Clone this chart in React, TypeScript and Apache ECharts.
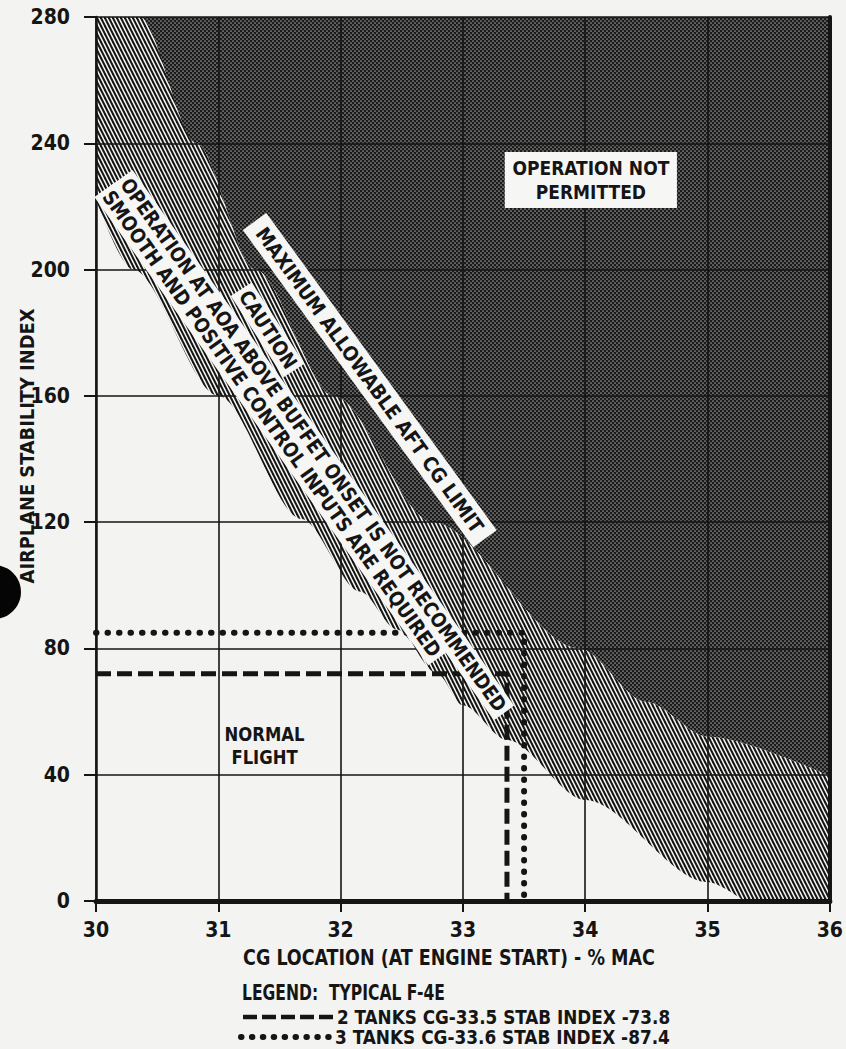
import React, { useEffect, useRef } from "react";
import * as echarts from "echarts";

// ---- axis ticks ----
const cgTicks = [30, 31, 32, 33, 34, 35, 36];
const indexTicks = [0, 40, 80, 120, 160, 200, 240, 280];

// ---- maximum allowable aft CG limit (lower edge of "operation not permitted") ----
const aftLimitCG = [30.36, 30.82, 31.3, 31.94, 32.75, 33.95, 34.5, 35.0, 36.0];
const aftLimitIndex = [280, 240, 200, 160, 120, 80, 63, 52, 39.5];

// ---- lower edge of the caution (buffet onset) band ----
const cautionCG = [30.0, 30.3, 31.0, 31.68, 32.16, 32.46, 32.79, 33.0, 33.36, 34.0, 35.0, 35.3];
const cautionIndex = [222, 200, 160, 121, 98, 86, 72, 62, 51, 32, 6, 0];

// ---- typical F-4E examples ----
const twoTanksCG = [30, 33.36, 33.36];
const twoTanksIndex = [72, 72, 0];
const threeTanksCG = [30, 33.5, 33.5];
const threeTanksIndex = [85, 85, 0];

const legendTitle = "LEGEND:  TYPICAL F-4E";
const twoTanksLabel = "2 TANKS CG-33.5 STAB INDEX -73.8";
const threeTanksLabel = "3 TANKS CG-33.6 STAB INDEX -87.4";

const FONT =
  '"Liberation Sans Narrow", "DejaVu Sans Condensed", "Roboto Condensed", "Arial Narrow", "Liberation Sans", sans-serif';
const INK = "#151515";
const PAPER = "#f3f3f1";
const STRIP = "#f6f6f4";

function svgUrl(svg: string) {
  return "data:image/svg+xml;charset=utf-8," + encodeURIComponent(svg);
}

const hatchSvg =
  '<svg xmlns="http://www.w3.org/2000/svg" width="4" height="8">' +
  '<rect width="4" height="8" fill="' + PAPER + '"/>' +
  '<g stroke="#141414" stroke-width="2.05">' +
  '<line x1="-1" y1="-2" x2="5" y2="10"/>' +
  '<line x1="3" y1="-2" x2="9" y2="10"/>' +
  '<line x1="-5" y1="-2" x2="1" y2="10"/>' +
  "</g></svg>";

const dotSvg =
  '<svg xmlns="http://www.w3.org/2000/svg" width="4" height="4">' +
  '<rect width="4" height="4" fill="#1b1b1b"/>' +
  '<circle cx="1" cy="1" r="0.85" fill="#9a9a9a"/>' +
  '<circle cx="3" cy="3" r="0.85" fill="#9a9a9a"/>' +
  "</svg>";

let measureCtx: CanvasRenderingContext2D | null = null;
function textWidth(text: string, size: number) {
  if (!measureCtx) measureCtx = document.createElement("canvas").getContext("2d");
  if (!measureCtx) return 0;
  measureCtx.font = "bold " + size + "px " + FONT;
  return Math.max(...text.split("\n").map((t) => measureCtx!.measureText(t).width));
}
// scale factor so the widest line of a text spans `target` pixels
function fit(text: string, size: number, target: number) {
  const w = textWidth(text, size);
  if (!w) return 1;
  return Math.min(1.15, Math.max(0.6, target / w));
}

export default function App() {
  const ref = useRef<HTMLDivElement>(null);

  useEffect(() => {
    const el = ref.current;
    if (!el) return;
    const chart = echarts.init(el, null, { renderer: "svg" });

    const pair = (xs: number[], ys: number[]) => xs.map((x, i) => [x, ys[i]]);
    const limit = pair(aftLimitCG, aftLimitIndex);
    const caution = pair(cautionCG, cautionIndex);
    const topIdx = indexTicks[indexTicks.length - 1];

    const hatch = { image: svgUrl(hatchSvg), repeat: "repeat", imageWidth: 4, imageHeight: 8 };
    const dots = { image: svgUrl(dotSvg), repeat: "repeat", imageWidth: 4, imageHeight: 4 };

    const tick = { fontFamily: FONT, fontWeight: "bold", fontSize: 21, color: INK };

    chart.setOption({
      animation: false,
      backgroundColor: PAPER,
      grid: { left: 96, right: 10, top: 17, bottom: 148, containLabel: false },
      xAxis: {
        type: "value",
        min: cgTicks[0],
        max: cgTicks[cgTicks.length - 1],
        interval: cgTicks[1] - cgTicks[0],
        z: 2,
        axisLine: { show: true, onZero: false, lineStyle: { color: INK, width: 5 } },
        axisTick: { show: true, length: 11, lineStyle: { color: INK, width: 2 } },
        axisLabel: { ...tick, margin: 18 },
        splitLine: { show: true, lineStyle: { color: INK, width: 1.6 } },
      },
      yAxis: [
        {
          type: "value",
          min: indexTicks[0],
          max: topIdx,
          interval: indexTicks[1] - indexTicks[0],
          z: 2,
          axisLine: { show: true, onZero: false, lineStyle: { color: INK, width: 2.5 } },
          axisTick: { show: true, length: 12, lineStyle: { color: INK, width: 2 } },
          axisLabel: { ...tick, margin: 26 },
          splitLine: { show: true, lineStyle: { color: INK, width: 1.6 } },
        },
        {
          type: "value",
          position: "right",
          min: indexTicks[0],
          max: topIdx,
          interval: indexTicks[1] - indexTicks[0],
          z: 2,
          axisLine: { show: true, onZero: false, lineStyle: { color: INK, width: 4 } },
          axisTick: { show: false },
          axisLabel: { show: false },
          splitLine: { show: false },
        },
      ],
      series: [
        {
          name: "Operation not permitted",
          type: "line",
          data: limit,
          smooth: 0.3,
          smoothMonotone: "x",
          showSymbol: false,
          silent: true,
          z: 1,
          lineStyle: { width: 0 },
          areaStyle: { color: dots, opacity: 1, origin: "end" },
        },
        {
          name: "Caution band",
          type: "line",
          data: [[cgTicks[0], topIdx], ...limit],
          smooth: 0.3,
          smoothMonotone: "x",
          showSymbol: false,
          silent: true,
          z: 1,
          lineStyle: { width: 0 },
          areaStyle: { color: hatch, opacity: 1, origin: "start" },
        },
        {
          name: "Normal flight",
          type: "line",
          data: caution,
          smooth: 0.3,
          smoothMonotone: "x",
          showSymbol: false,
          silent: true,
          z: 1.5,
          lineStyle: { width: 0 },
          areaStyle: { color: PAPER, opacity: 1, origin: "start" },
        },
        {
          name: twoTanksLabel,
          type: "line",
          data: pair(twoTanksCG, twoTanksIndex),
          showSymbol: false,
          silent: true,
          z: 3,
          lineStyle: { color: INK, width: 5, type: [15, 6] },
        },
        {
          name: threeTanksLabel,
          type: "line",
          data: pair(threeTanksCG, threeTanksIndex),
          showSymbol: false,
          silent: true,
          z: 3,
          lineStyle: { color: INK, width: 6, type: [0.5, 11], cap: "round" },
        },
      ],
    });

    const px = (p: number[]) => chart.convertToPixel({ gridIndex: 0 }, p) as number[];
    const deg = Math.PI / 180;
    const txt = (p: number[], text: string, angle: number, target: number, extra: any = {}) => {
      const q = px(p);
      const size = extra.fontSize || 20;
      return {
        type: "text",
        x: q[0],
        y: q[1],
        rotation: -angle * deg,
        scaleX: fit(text, size, target),
        z: 100,
        silent: true,
        style: {
          text,
          fontFamily: FONT,
          fontWeight: "bold",
          fontSize: size,
          fill: INK,
          align: "center",
          verticalAlign: "middle",
          lineHeight: 23,
          ...extra,
        },
      };
    };
    const plain = (x: number, y: number, text: string, align: string, size: number, target: number, rot = 0) => ({
      type: "text",
      x,
      y,
      rotation: rot,
      scaleX: fit(text, size, target),
      z: 100,
      silent: true,
      style: {
        text,
        fontFamily: FONT,
        fontWeight: "bold",
        fontSize: size,
        lineHeight: size,
        fill: INK,
        align,
        verticalAlign: "middle",
      },
    });

    const graphic: any[] = [
      txt([34.046, 228.4], "OPERATION NOT\nPERMITTED", 0, 157, {
        backgroundColor: STRIP,
        padding: [4, 8],
        lineHeight: 24,
      }),
      txt([32.238, 165.0], "MAXIMUM ALLOWABLE AFT CG LIMIT", 54, 372, {
        backgroundColor: STRIP,
        padding: [3, 10],
      }),
      txt([31.403, 180.9], "CAUTION", 57, 89, { backgroundColor: STRIP, padding: [1, 4] }),
      txt([31.776, 144.4], "OPERATION AT AOA ABOVE BUFFET ONSET IS NOT RECOMMENDED", 54.5, 650, {
        backgroundColor: STRIP,
        padding: [1, 4],
      }),
      txt([31.435, 151.1], "SMOOTH AND POSITIVE CONTROL INPUTS ARE REQUIRED", 54.5, 567, {
        backgroundColor: STRIP,
        padding: [1, 4],
      }),
      txt([31.378, 49.1], "NORMAL\nFLIGHT", 0, 80, { lineHeight: 23 }),
      plain(27, 446, "AIRPLANE STABILITY INDEX", "center", 20, 275, Math.PI / 2),
      plain(449, 958, "CG LOCATION (AT ENGINE START) - % MAC", "center", 21, 412),
      plain(242, 993, legendTitle, "left", 21, 203),
      {
        type: "line",
        z: 100,
        silent: true,
        shape: { x1: 243, y1: 1017, x2: 335, y2: 1017 },
        style: { stroke: INK, lineWidth: 4.5, lineDash: [14, 5] },
      },
      plain(337, 1017, twoTanksLabel, "left", 20, 333),
      {
        type: "line",
        z: 100,
        silent: true,
        shape: { x1: 241, y1: 1037, x2: 331, y2: 1037 },
        style: { stroke: INK, lineWidth: 6, lineDash: [0.5, 10.4], lineCap: "round" },
      },
      plain(335, 1037, threeTanksLabel, "left", 19, 335),
      {
        type: "circle",
        z: 100,
        silent: true,
        shape: { cx: -6, cy: 592, r: 27 },
        style: { fill: "#050505" },
      },
    ];

    chart.setOption({ graphic });

    return () => {
      chart.dispose();
    };
  }, []);

  return (
    <div
      ref={ref}
      style={{ position: "fixed", left: 0, top: 0, width: 846, height: 1049, background: PAPER }}
    />
  );
}
